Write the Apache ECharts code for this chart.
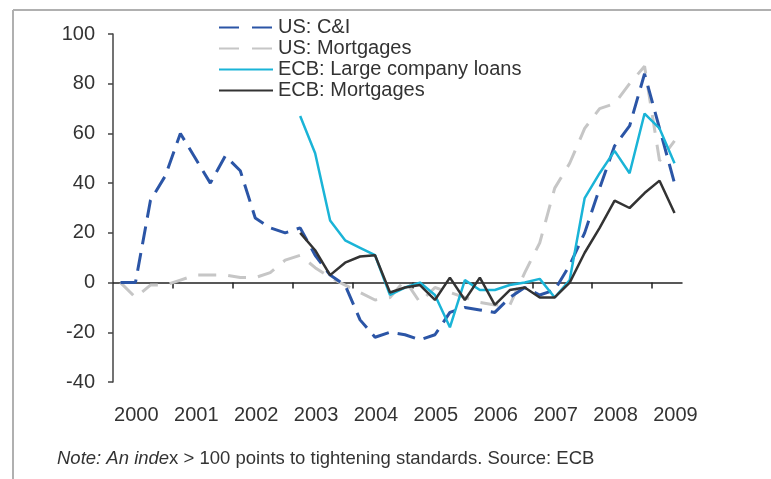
<!DOCTYPE html>
<html>
<head>
<meta charset="utf-8">
<script src="https://cdn.jsdelivr.net/npm/echarts@6/dist/echarts.min.js"></script>
<style>
    html, body { margin: 0; padding: 0; background: #fff; }
    #chart { width: 771px; height: 479px; }
</style>
</head>
<body>
<div id="chart"></div>
<script>
// quarters 2000Q1 .. 2009Q2
var quarters = []
for (var y = 2000; y <= 2009; y++) {
    for (var q = 1; q <= 4; q++) {
        if (y === 2009 && q > 2) break
        quarters.push(y + 'Q' + q)
    }
}
var yearLabels = ['2000', '2001', '2002', '2003', '2004', '2005', '2006', '2007', '2008', '2009']
var yTicks = [-40, -20, 0, 20, 40, 60, 80, 100]

var usCI = [0, 0, 33, 43, 60, 50, 40, 51, 45, 26, 22, 20, 22, 11, 3, -1, -15, -22, -20, -21,
    -23, -21, -12, -10, -11, -12, -6, -2, -5, -3, 7, 20, 38, 55, 63, 84, 62, 40]
var usMort = [0, -6, -1, -1, 1, 3, 3, 3, 2, 2, 4, 9, 11, 6, 2, -1, -4, -7, -6, 1,
    -8, -2, -4, -6, -8, -9, -9, 4, 16, 38, 48, 62, 70, 72, 80, 87, 49, 57]
var ecbLarge = [null, null, null, null, null, null, null, null, null, null, null, null,
    67, 52, 25, 17, 14, 11, -5, -2, 0, -5, -18, 1, -3, -3, -1, 0, 1.5, -6, 1, 34, 44, 53, 44, 68, 62, 48]
var ecbMort = [null, null, null, null, null, null, null, null, null, null, null, null,
    20, 13, 3, 8, 10.5, 11, -4, -2, -1, -7, 2, -7, 2, -9, -3, -2, -6, -6, 0, 12, 22, 33, 30, 36, 41, 28]

var fontFamily = "'Liberation Sans', Arial, sans-serif"
var textColor = '#333'

// quarter -> decimal year at mid-quarter
function qTime(label) {
    var yr = parseInt(label.slice(0, 4), 10)
    var qq = parseInt(label.slice(5), 10)
    return yr + (qq - 0.5) / 4
}
function pairs(values) {
    var out = []
    values.forEach(function (v, i) {
        if (v !== null) out.push([qTime(quarters[i]), v])
    })
    return out
}

var tickYears = yearLabels.slice(1).map(function (s) { return parseInt(s, 10) })
var labelPos = yearLabels.map(function (s) { return parseInt(s, 10) + 0.39 })

var option = {
    animation: false,
    backgroundColor: '#fff',
    textStyle: { fontFamily: fontFamily },
    grid: { left: 113, right: 89, top: 34, bottom: 97, containLabel: false },
    legend: {
        orient: 'vertical',
        left: 218,
        top: 17,
        padding: 0,
        itemWidth: 54,
        itemHeight: 10,
        itemGap: 0,
        itemTextGap: 6,
        itemStyle: { opacity: 0 },
        textStyle: { color: textColor, fontSize: 20, lineHeight: 21, fontFamily: fontFamily },
        data: [
            { name: 'US: C&I', lineStyle: { type: [20, 13] } },
            { name: 'US: Mortgages', lineStyle: { type: [20, 13] } },
            'ECB: Large company loans',
            'ECB: Mortgages'
        ]
    },
    xAxis: [{
        type: 'value',
        min: 2000,
        max: 2009.5,
        axisLine: { show: true, onZero: true, lineStyle: { color: '#222', width: 1.5 } },
        axisTick: { show: true, length: 6, customValues: tickYears, lineStyle: { color: '#222', width: 1.5 } },
        axisLabel: { show: false },
        splitLine: { show: false }
    }, {
        type: 'value',
        min: 2000,
        max: 2009.5,
        position: 'bottom',
        axisLine: { show: false, onZero: false },
        axisTick: { show: false },
        axisLabel: {
            show: true,
            customValues: labelPos,
            margin: 23,
            color: textColor,
            fontSize: 20,
            fontFamily: fontFamily,
            formatter: function (v) { return String(Math.floor(v)) }
        },
        splitLine: { show: false }
    }],
    yAxis: {
        type: 'value',
        min: yTicks[0],
        max: yTicks[yTicks.length - 1],
        interval: 20,
        axisLine: { show: true, lineStyle: { color: '#444', width: 1.5 } },
        axisTick: { show: true, length: 5, lineStyle: { color: '#444', width: 1.5 } },
        axisLabel: { color: textColor, fontSize: 20, margin: 18, fontFamily: fontFamily },
        splitLine: { show: false }
    },
    graphic: [
        { type: 'line', shape: { x1: 13, y1: 10, x2: 771, y2: 10 }, style: { stroke: '#b0b0b0', lineWidth: 2 } },
        { type: 'line', shape: { x1: 13, y1: 10, x2: 13, y2: 479 }, style: { stroke: '#b0b0b0', lineWidth: 2 } },
        {
            type: 'text',
            left: 57,
            top: 449,
            style: {
                text: '{i|Note: An inde}x > 100 points to tightening standards. Source: ECB',
                fill: textColor,
                fontSize: 18.5,
                fontFamily: fontFamily,
                rich: { i: { fontStyle: 'italic', fontSize: 18.5, fill: textColor, fontFamily: fontFamily } }
            }
        }
    ],
    series: [
        {
            name: 'US: C&I',
            type: 'line',
            symbol: 'none',
            z: 2,
            lineStyle: { color: '#2b55a6', width: 3, type: [18, 9] },
            itemStyle: { color: '#2b55a6' },
            data: pairs(usCI)
        },
        {
            name: 'US: Mortgages',
            type: 'line',
            symbol: 'none',
            z: 1,
            lineStyle: { color: '#c6c6c6', width: 3, type: [18, 12] },
            itemStyle: { color: '#c6c6c6' },
            data: pairs(usMort)
        },
        {
            name: 'ECB: Large company loans',
            type: 'line',
            symbol: 'none',
            z: 3,
            lineStyle: { color: '#1ab4d7', width: 2.5 },
            itemStyle: { color: '#1ab4d7' },
            data: pairs(ecbLarge)
        },
        {
            name: 'ECB: Mortgages',
            type: 'line',
            symbol: 'none',
            z: 4,
            lineStyle: { color: '#333', width: 2.5 },
            itemStyle: { color: '#333' },
            data: pairs(ecbMort)
        }
    ]
}

var myChart = echarts.init(document.getElementById('chart'))
myChart.setOption(option)
</script>
</body>
</html>
